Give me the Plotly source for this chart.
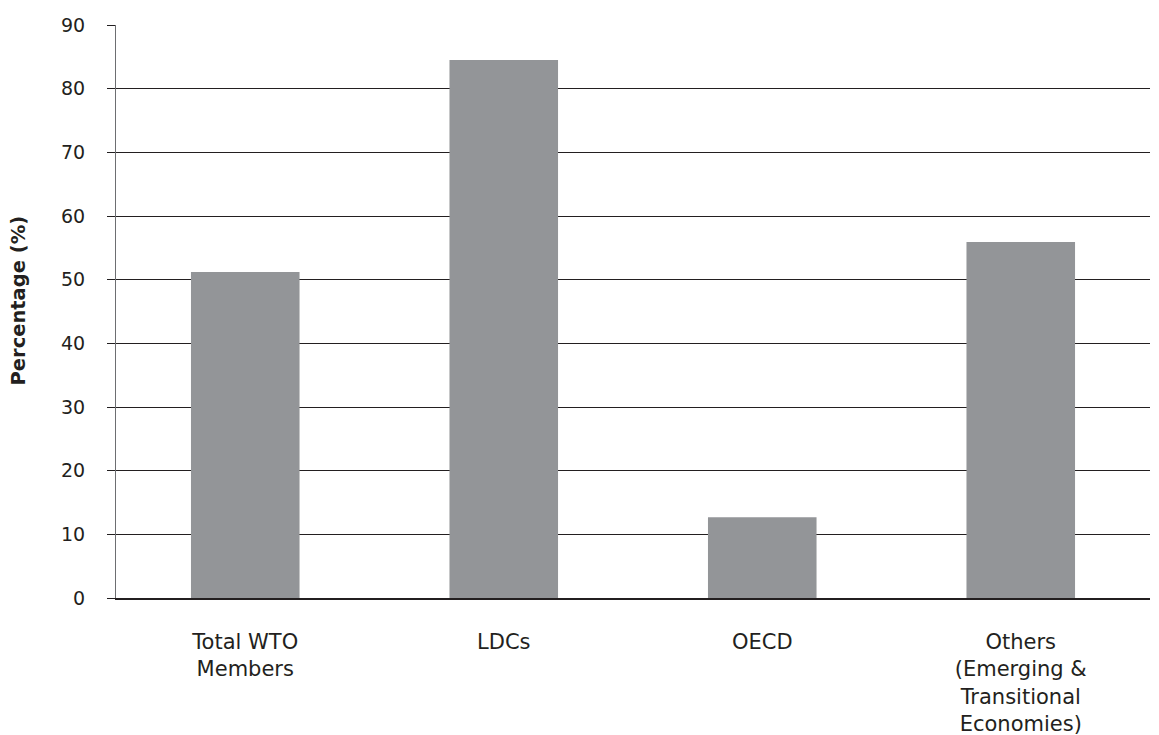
import plotly.graph_objects as go

categories = ["Total WTO<br>Members", "LDCs", "OECD", "Others<br>(Emerging &<br>Transitional<br>Economies)"]
values = [51.2, 84.5, 12.7, 55.9]
y_ticks = [0, 10, 20, 30, 40, 50, 60, 70, 80, 90]

fig = go.Figure(go.Bar(x=categories, y=values, marker=dict(color="#939598", line=dict(width=0))))

fig.update_layout(
    width=1151, height=727,
    margin=dict(l=108, r=9, t=17, b=137),
    plot_bgcolor="white", paper_bgcolor="white",
    bargap=0.58,
    showlegend=False,
    font=dict(family="DejaVu Sans", size=19, color="#231f20"),
    annotations=[dict(
        text="<b>Percentage (%)</b>", textangle=-90,
        xref="paper", yref="paper", x=0, y=0.5,
        xanchor="center", yanchor="middle", xshift=-98, yshift=11, showarrow=False,
        font=dict(size=19.5),
    )],
)
fig.update_xaxes(
    showline=True, linecolor="#231f20", linewidth=1.5,
    ticks="", ticklabelstandoff=24, automargin=False,
    tickfont=dict(size=21),
)
fig.update_yaxes(
    range=[0, 90], tickvals=y_ticks, automargin=False,
    showgrid=True, gridcolor="#231f20", gridwidth=1,
    showline=True, linecolor="#6d6e71", linewidth=1,
    ticks="outside", ticklen=8, tickcolor="#231f20",
    ticklabelstandoff=18,
    zeroline=False,
)

fig.write_html("out.html")
